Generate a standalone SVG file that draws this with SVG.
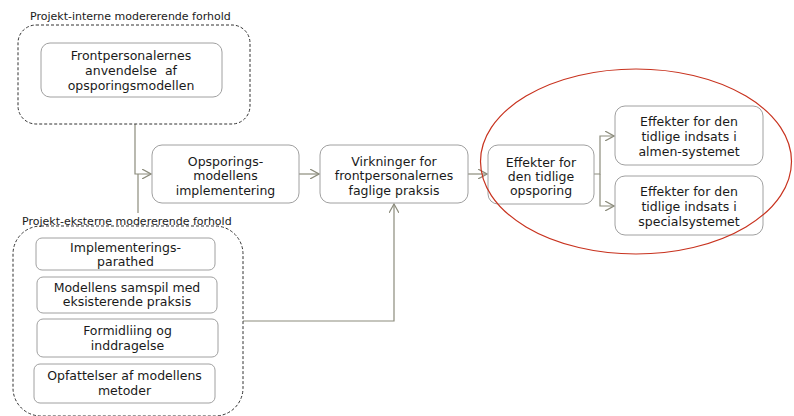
<svg xmlns="http://www.w3.org/2000/svg" width="794" height="416" viewBox="0 0 794 416">
<defs>
<style>
.box{fill:#fff;stroke:#a0a0a0;stroke-width:1}
.grp{fill:none;stroke:#333;stroke-width:1;stroke-dasharray:3,2}
.t{font-family:"DejaVu Sans",Verdana,sans-serif;font-size:12.5px;fill:#1a1a1a;text-anchor:middle}
.lbl{font-family:"DejaVu Sans",Verdana,sans-serif;font-size:11px;fill:#1a1a1a}
.c{fill:none;stroke:#8c8c7c;stroke-width:1.2}
</style>
<marker id="ah" viewBox="0 0 10 10" refX="9" refY="5" markerWidth="10" markerHeight="10" markerUnits="userSpaceOnUse" orient="auto">
<path d="M0,0 L9,5 L0,10" fill="none" stroke="#8c8c7c" stroke-width="1.2"/>
</marker>
</defs>
<rect width="794" height="416" fill="#fff"/>
<g id="connectors">
<path class="c" d="M135,124 V174 H151" marker-end="url(#ah)"/>
<path class="c" d="M138,213 V174"/>
<path class="c" d="M299,174 H319" marker-end="url(#ah)"/>
<path class="c" d="M468,174 H487" marker-end="url(#ah)"/>
<path class="c" d="M243,321 H394 V204" marker-end="url(#ah)"/>
<path class="c" d="M594,174 H600 V136 H614" marker-end="url(#ah)"/>
<path class="c" d="M600,174 V206 H614" marker-end="url(#ah)"/>
</g>
<g id="intern">
<rect class="grp" x="18" y="25" width="232" height="99" rx="18"/>
<text class="lbl" x="30" y="20">Projekt-interne modererende forhold</text>
</g>
<g id="frontpersonale">
<rect class="box" x="41" y="43" width="181" height="54" rx="9"/>
<text class="t" x="131" y="60">Frontpersonalernes</text>
<text class="t" x="131" y="75" xml:space="preserve">anvendelse  af</text>
<text class="t" x="131" y="90">opsporingsmodellen</text>
</g>
<g id="opsporing">
<rect class="box" x="152" y="145" width="147" height="58" rx="10"/>
<text class="t" x="225.5" y="166">Opsporings-</text>
<text class="t" x="225.5" y="180">modellens</text>
<text class="t" x="225.5" y="195">implementering</text>
</g>
<g id="virkninger">
<rect class="box" x="320" y="145" width="148" height="58" rx="10"/>
<text class="t" x="394" y="166">Virkninger for</text>
<text class="t" x="394" y="180">frontpersonalernes</text>
<text class="t" x="394" y="195">faglige praksis</text>
</g>
<g id="ekstern">
<rect class="grp" x="13" y="226" width="230" height="190" rx="28"/>
<text class="lbl" x="22" y="225">Projekt-eksterne modererende forhold</text>
</g>
<g id="parathed">
<rect class="box" x="36" y="238" width="179" height="32" rx="6"/>
<text class="t" x="125.5" y="252">Implementerings-</text>
<text class="t" x="125.5" y="266">parathed</text>
</g>
<g id="samspil">
<rect class="box" x="37" y="277" width="180" height="36" rx="6"/>
<text class="t" x="127" y="292">Modellens samspil med</text>
<text class="t" x="127" y="306">eksisterende praksis</text>
</g>
<g id="formidling">
<rect class="box" x="37" y="319" width="181" height="38" rx="6"/>
<text class="t" x="127.5" y="335">Formidliing og</text>
<text class="t" x="127.5" y="350">inddragelse</text>
</g>
<g id="opfattelser">
<rect class="box" x="34" y="364" width="181" height="39" rx="6"/>
<text class="t" x="124.5" y="380">Opfattelser af modellens</text>
<text class="t" x="124.5" y="395">metoder</text>
</g>
<g id="effekter">
<rect class="box" x="488" y="145" width="106" height="59" rx="10"/>
<text class="t" x="541" y="167">Effekter for</text>
<text class="t" x="541" y="181">den tidlige</text>
<text class="t" x="541" y="195">opsporing</text>
</g>
<g id="almen">
<rect class="box" x="615" y="106" width="148" height="59" rx="10"/>
<text class="t" x="689" y="126">Effekter for den</text>
<text class="t" x="689" y="141">tidlige indsats i</text>
<text class="t" x="689" y="156">almen-systemet</text>
</g>
<g id="special">
<rect class="box" x="615" y="176" width="148" height="59" rx="10"/>
<text class="t" x="689" y="196">Effekter for den</text>
<text class="t" x="689" y="211">tidlige indsats i</text>
<text class="t" x="689" y="226">specialsystemet</text>
</g>
<ellipse cx="636" cy="161.5" rx="155.5" ry="92.5" fill="none" stroke="#c8321e" stroke-width="1.2"/>
</svg>
